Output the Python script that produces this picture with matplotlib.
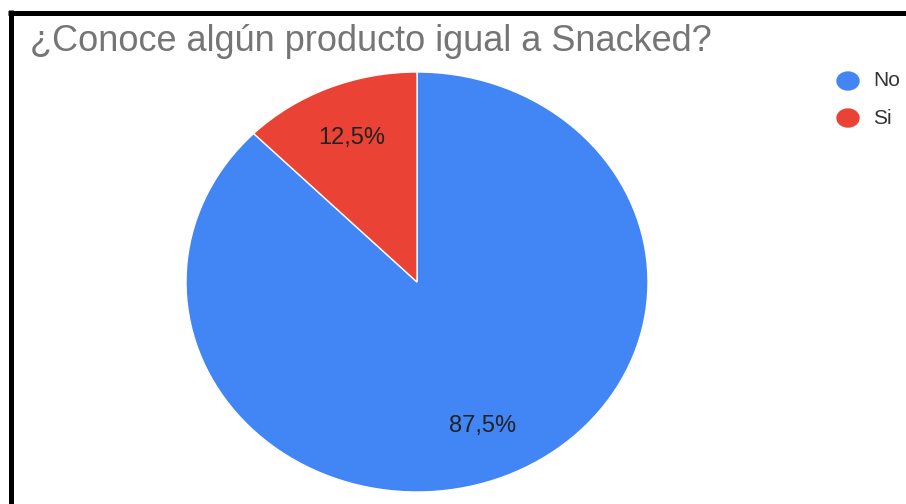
import matplotlib
matplotlib.use("Agg")
import matplotlib.pyplot as plt
from matplotlib.lines import Line2D
from matplotlib.patches import Ellipse

plt.rcParams['font.family'] = ['Liberation Sans', 'DejaVu Sans']

title = "¿Conoce algún producto igual a Snacked?"
labels = ["No", "Si"]
values = [87.5, 12.5]
colors = ["#4285F4", "#EA4335"]

W, H = 906, 504
fig = plt.figure(figsize=(W / 100, H / 100), dpi=100)
fig.patch.set_facecolor("white")

# pie area (stretched horizontally like the exported chart)
ax = fig.add_axes([186 / W, 12 / H, 462 / W, 420 / H])
wedges, texts, autotexts = ax.pie(
    values, colors=colors, startangle=90, counterclock=False,
    autopct=lambda p: f"{p:.1f}%".replace(".", ","), pctdistance=0.74,
    wedgeprops=dict(edgecolor="white", linewidth=1),
    textprops=dict(color="#222222", fontsize=17),
)
ax.set_aspect("auto")
ax.set_xlim(-1, 1)
ax.set_ylim(-1, 1)
ax.axis("off")

# title
fig.text(30 / W, 1 - 51 / H, title, fontsize=26, color="#757575",
         ha="left", va="baseline")

# legend
for i, (lab, col) in enumerate(zip(labels, colors)):
    cy = 1 - (81 + 37 * i) / H
    fig.patches.append(Ellipse((848 / W, cy), 22 / W, 18 / H, color=col,
                               transform=fig.transFigure, figure=fig))
    fig.text(873 / W, cy, lab, fontsize=15, color="#333333",
             ha="left", va="center")

# frame lines (top and left)
fig.add_artist(Line2D([8 / W, 1], [1 - 12.5 / H, 1 - 12.5 / H],
                      transform=fig.transFigure, color="black", linewidth=3.6,
                      solid_capstyle="butt"))
fig.add_artist(Line2D([10.5 / W, 10.5 / W], [0, 1 - 10 / H],
                      transform=fig.transFigure, color="black", linewidth=3.6,
                      solid_capstyle="butt"))

fig.savefig("out.png", dpi=100)
